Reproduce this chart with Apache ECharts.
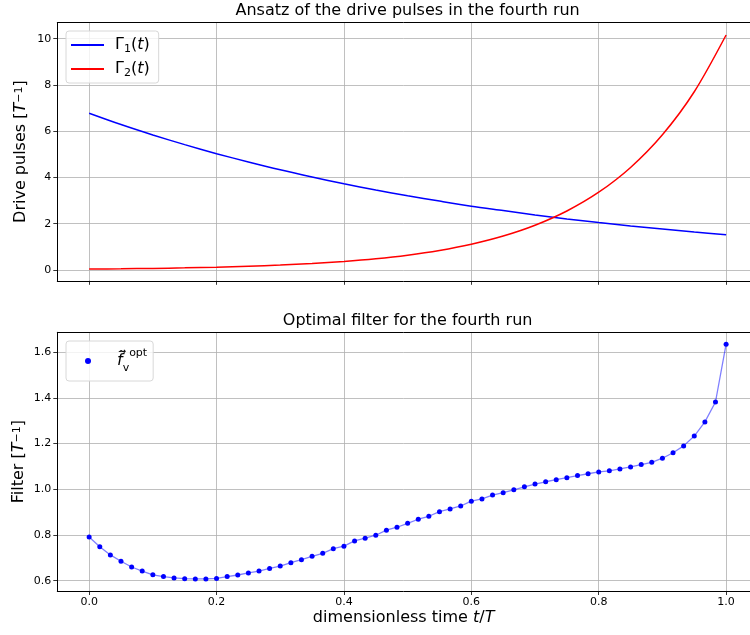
<!DOCTYPE html>
<html>
<head>
<meta charset="utf-8">
<script src="https://cdn.jsdelivr.net/npm/echarts@6/dist/echarts.min.js"></script>
<style>
  html, body { margin: 0; padding: 0; background: #fff; }
  #chart { width: 750px; height: 635px; }
</style>
</head>
<body>
<div id="chart"></div>
<script>
// sample times of the drive pulses (read every 0.05)
var pulseT = [0, 0.05, 0.1, 0.15, 0.2, 0.25, 0.3, 0.35, 0.4, 0.45, 0.5,
              0.55, 0.6, 0.65, 0.7, 0.75, 0.8, 0.85, 0.9, 0.95, 1];
var gamma1 = [6.78, 6.29, 5.84, 5.42, 5.03, 4.67, 4.33, 4.02, 3.73, 3.46, 3.21,
              2.98, 2.76, 2.57, 2.38, 2.21, 2.05, 1.90, 1.77, 1.64, 1.52];
var gamma2 = [0.04, 0.053, 0.07, 0.092, 0.122, 0.161, 0.212, 0.279, 0.368, 0.485, 0.64,
              0.844, 1.113, 1.467, 1.934, 2.55, 3.362, 4.433, 5.845, 7.706, 10.16];

// filter samples
var filterT = [0, 0.0167, 0.0333, 0.05, 0.0667, 0.0833, 0.1, 0.1167, 0.1333, 0.15,
               0.1667, 0.1833, 0.2, 0.2167, 0.2333, 0.25, 0.2667, 0.2833, 0.3, 0.3167,
               0.3333, 0.35, 0.3667, 0.3833, 0.4, 0.4167, 0.4333, 0.45, 0.4667, 0.4833,
               0.5, 0.5167, 0.5333, 0.55, 0.5667, 0.5833, 0.6, 0.6167, 0.6333, 0.65,
               0.6667, 0.6833, 0.7, 0.7167, 0.7333, 0.75, 0.7667, 0.7833, 0.8, 0.8167,
               0.8333, 0.85, 0.8667, 0.8833, 0.9, 0.9167, 0.9333, 0.95, 0.9667, 0.9833, 1];
var filterOpt = [0.791, 0.749, 0.713, 0.685, 0.660, 0.642, 0.626, 0.618, 0.612, 0.609,
                 0.608, 0.608, 0.610, 0.618, 0.625, 0.634, 0.642, 0.654, 0.664, 0.679,
                 0.692, 0.707, 0.720, 0.740, 0.751, 0.774, 0.786, 0.799, 0.821, 0.834,
                 0.851, 0.869, 0.882, 0.902, 0.914, 0.927, 0.948, 0.958, 0.975, 0.985,
                 0.998, 1.011, 1.023, 1.033, 1.042, 1.051, 1.060, 1.068, 1.076, 1.081,
                 1.089, 1.098, 1.108, 1.118, 1.136, 1.160, 1.190, 1.233, 1.295, 1.382, 1.635];

var xTicks = [0, 0.2, 0.4, 0.6, 0.8, 1.0];
var pulseTicks = [0, 2, 4, 6, 8, 10];
var filterTicks = [0.6, 0.8, 1.0, 1.2, 1.4, 1.6];

function pairs(xs, ys) {
    return xs.map(function (x, i) { return [x, ys[i]]; });
}

var FONT = 'DejaVu Sans';
var richMath = {
    n: { fontFamily: FONT, fontSize: 16, color: '#000' },
    i: { fontFamily: FONT, fontSize: 16, fontStyle: 'italic', color: '#000' },
    sub: { fontFamily: FONT, fontSize: 11, color: '#000', verticalAlign: 'bottom' },
    sup: { fontFamily: FONT, fontSize: 11, color: '#000', verticalAlign: 'top' }
};

var gridLine = { show: true, lineStyle: { color: '#b0b0b0', width: 0.8 } };
var tick = { show: true, inside: false, length: 4, lineStyle: { color: '#000', width: 0.8 } };
var tickLabel = { fontFamily: FONT, fontSize: 11, color: '#000', margin: 6 };
var spine = { show: true, onZero: false, lineStyle: { color: '#000', width: 1 } };
// the axes run past the right edge of the picture (x max 1.05 is off canvas)
var X_MIN = -0.05, X_MAX = 1.0375;

function topSpine(gridIndex) {
    return {
        type: 'value', gridIndex: gridIndex, position: 'top', min: X_MIN, max: X_MAX,
        axisLine: spine, axisTick: { show: false }, axisLabel: { show: false }, splitLine: { show: false }
    };
}

var myChart = echarts.init(document.getElementById('chart'));
var option = {
    backgroundColor: '#fff',
    animation: false,
    title: [
        {
            text: 'Ansatz of the drive pulses in the fourth run',
            left: 407.6, top: 3, textAlign: 'center', padding: 0,
            textStyle: { fontFamily: FONT, fontSize: 16, fontWeight: 'normal', color: '#000' }
        },
        {
            text: 'Optimal filter for the fourth run',
            left: 407.6, top: 313, textAlign: 'center', padding: 0,
            textStyle: { fontFamily: FONT, fontSize: 16, fontWeight: 'normal', color: '#000' }
        }
    ],
    legend: [
        {
            data: [{ name: 'Γ1(t)', icon: 'rect' }, { name: 'Γ2(t)', icon: 'rect' }],
            orient: 'vertical',
            left: 66, top: 31,
            itemWidth: 33, itemHeight: 2, itemGap: 4,
            padding: [4, 9, 4, 5],
            borderColor: '#d8d8d8', borderWidth: 1, borderRadius: 3,
            backgroundColor: 'rgba(255,255,255,0.8)',
            formatter: function (name) {
                return name === 'Γ1(t)' ? '{n|Γ}{sub|1}{n|(}{i|t}{n|)}' : '{n|Γ}{sub|2}{n|(}{i|t}{n|)}';
            },
            textStyle: { fontFamily: FONT, fontSize: 16, lineHeight: 20, padding: [0, 0, 0, 6], rich: richMath }
        },
        {
            data: [{ name: 'filter', icon: 'circle' }],
            orient: 'vertical',
            left: 66, top: 341,
            itemWidth: 6, itemHeight: 6,
            padding: [7, 6, 7, 19],
            borderColor: '#d8d8d8', borderWidth: 1, borderRadius: 3,
            backgroundColor: 'rgba(255,255,255,0.8)',
            formatter: function () {
                return '{i|f\u0303\u20D7}{sub|v}{sup|opt}';
            },
            textStyle: { fontFamily: FONT, fontSize: 16, lineHeight: 26, padding: [0, 0, 0, 21], rich: {
                i: { fontFamily: FONT, fontSize: 16, fontStyle: 'italic', color: '#000' },
                sub: { fontFamily: FONT, fontSize: 11, color: '#000', verticalAlign: 'bottom' },
                sup: { fontFamily: FONT, fontSize: 11, color: '#000', verticalAlign: 'top' }
            } }
        }
    ],
    grid: [
        { left: 57.3, top: 22.4, right: 0, height: 258.4, show: false },
        { left: 57.3, top: 332.3, right: 0, height: 258.7, show: false }
    ],
    xAxis: [
        {
            type: 'value', gridIndex: 0, min: X_MIN, max: X_MAX, position: 'bottom',
            axisLine: spine,
            axisTick: Object.assign({ customValues: xTicks }, tick),
            axisLabel: { show: false, customValues: xTicks },
            splitLine: gridLine
        },
        {
            type: 'value', gridIndex: 1, min: X_MIN, max: X_MAX, position: 'bottom',
            axisLine: spine,
            axisTick: Object.assign({ customValues: xTicks }, tick),
            axisLabel: Object.assign({ customValues: xTicks, formatter: function (v) { return v.toFixed(1); } }, tickLabel),
            splitLine: gridLine,
            name: '{n|dimensionless time }{i|t}{n|/}{i|T}',
            nameLocation: 'middle', nameGap: 19,
            nameTextStyle: { rich: richMath }
        },
        topSpine(0),
        topSpine(1)
    ],
    yAxis: [
        {
            type: 'value', gridIndex: 0, min: -0.467, max: 10.705,
            axisLine: spine,
            axisTick: Object.assign({ customValues: pulseTicks }, tick),
            axisLabel: Object.assign({ customValues: pulseTicks }, tickLabel),
            splitLine: gridLine,
            name: '{n|Drive pulses [}{i|T}{sup|−1}{n|]}',
            nameLocation: 'middle', nameGap: 28, nameRotate: 90, nameMoveOverlap: false,
            nameTextStyle: { rich: richMath }
        },
        {
            type: 'value', gridIndex: 1, min: 0.555, max: 1.687,
            axisLine: spine,
            axisTick: Object.assign({ customValues: filterTicks }, tick),
            axisLabel: Object.assign({ customValues: filterTicks, formatter: function (v) { return v.toFixed(1); } }, tickLabel),
            splitLine: gridLine,
            name: '{n|Filter [}{i|T}{sup|−1}{n|]}',
            nameLocation: 'middle', nameGap: 30, nameRotate: 90, nameMoveOverlap: false,
            nameTextStyle: { rich: richMath }
        }
    ],
    series: [
        {
            name: 'Γ1(t)', type: 'line', xAxisIndex: 0, yAxisIndex: 0,
            data: pairs(pulseT, gamma1), smooth: 0.3, showSymbol: false,
            lineStyle: { color: '#0000ff', width: 1.5 }, itemStyle: { color: '#0000ff' }
        },
        {
            name: 'Γ2(t)', type: 'line', xAxisIndex: 0, yAxisIndex: 0,
            data: pairs(pulseT, gamma2), smooth: 0.3, showSymbol: false,
            lineStyle: { color: '#ff0000', width: 1.5 }, itemStyle: { color: '#ff0000' }
        },
        {
            name: 'filter', type: 'line', xAxisIndex: 1, yAxisIndex: 1,
            data: pairs(filterT, filterOpt), symbol: 'circle', symbolSize: 5, showSymbol: true,
            lineStyle: { color: 'rgba(0,0,255,0.5)', width: 1.3 }, itemStyle: { color: '#0000ff' }
        }
    ]
};
myChart.setOption(option);
</script>
</body>
</html>
